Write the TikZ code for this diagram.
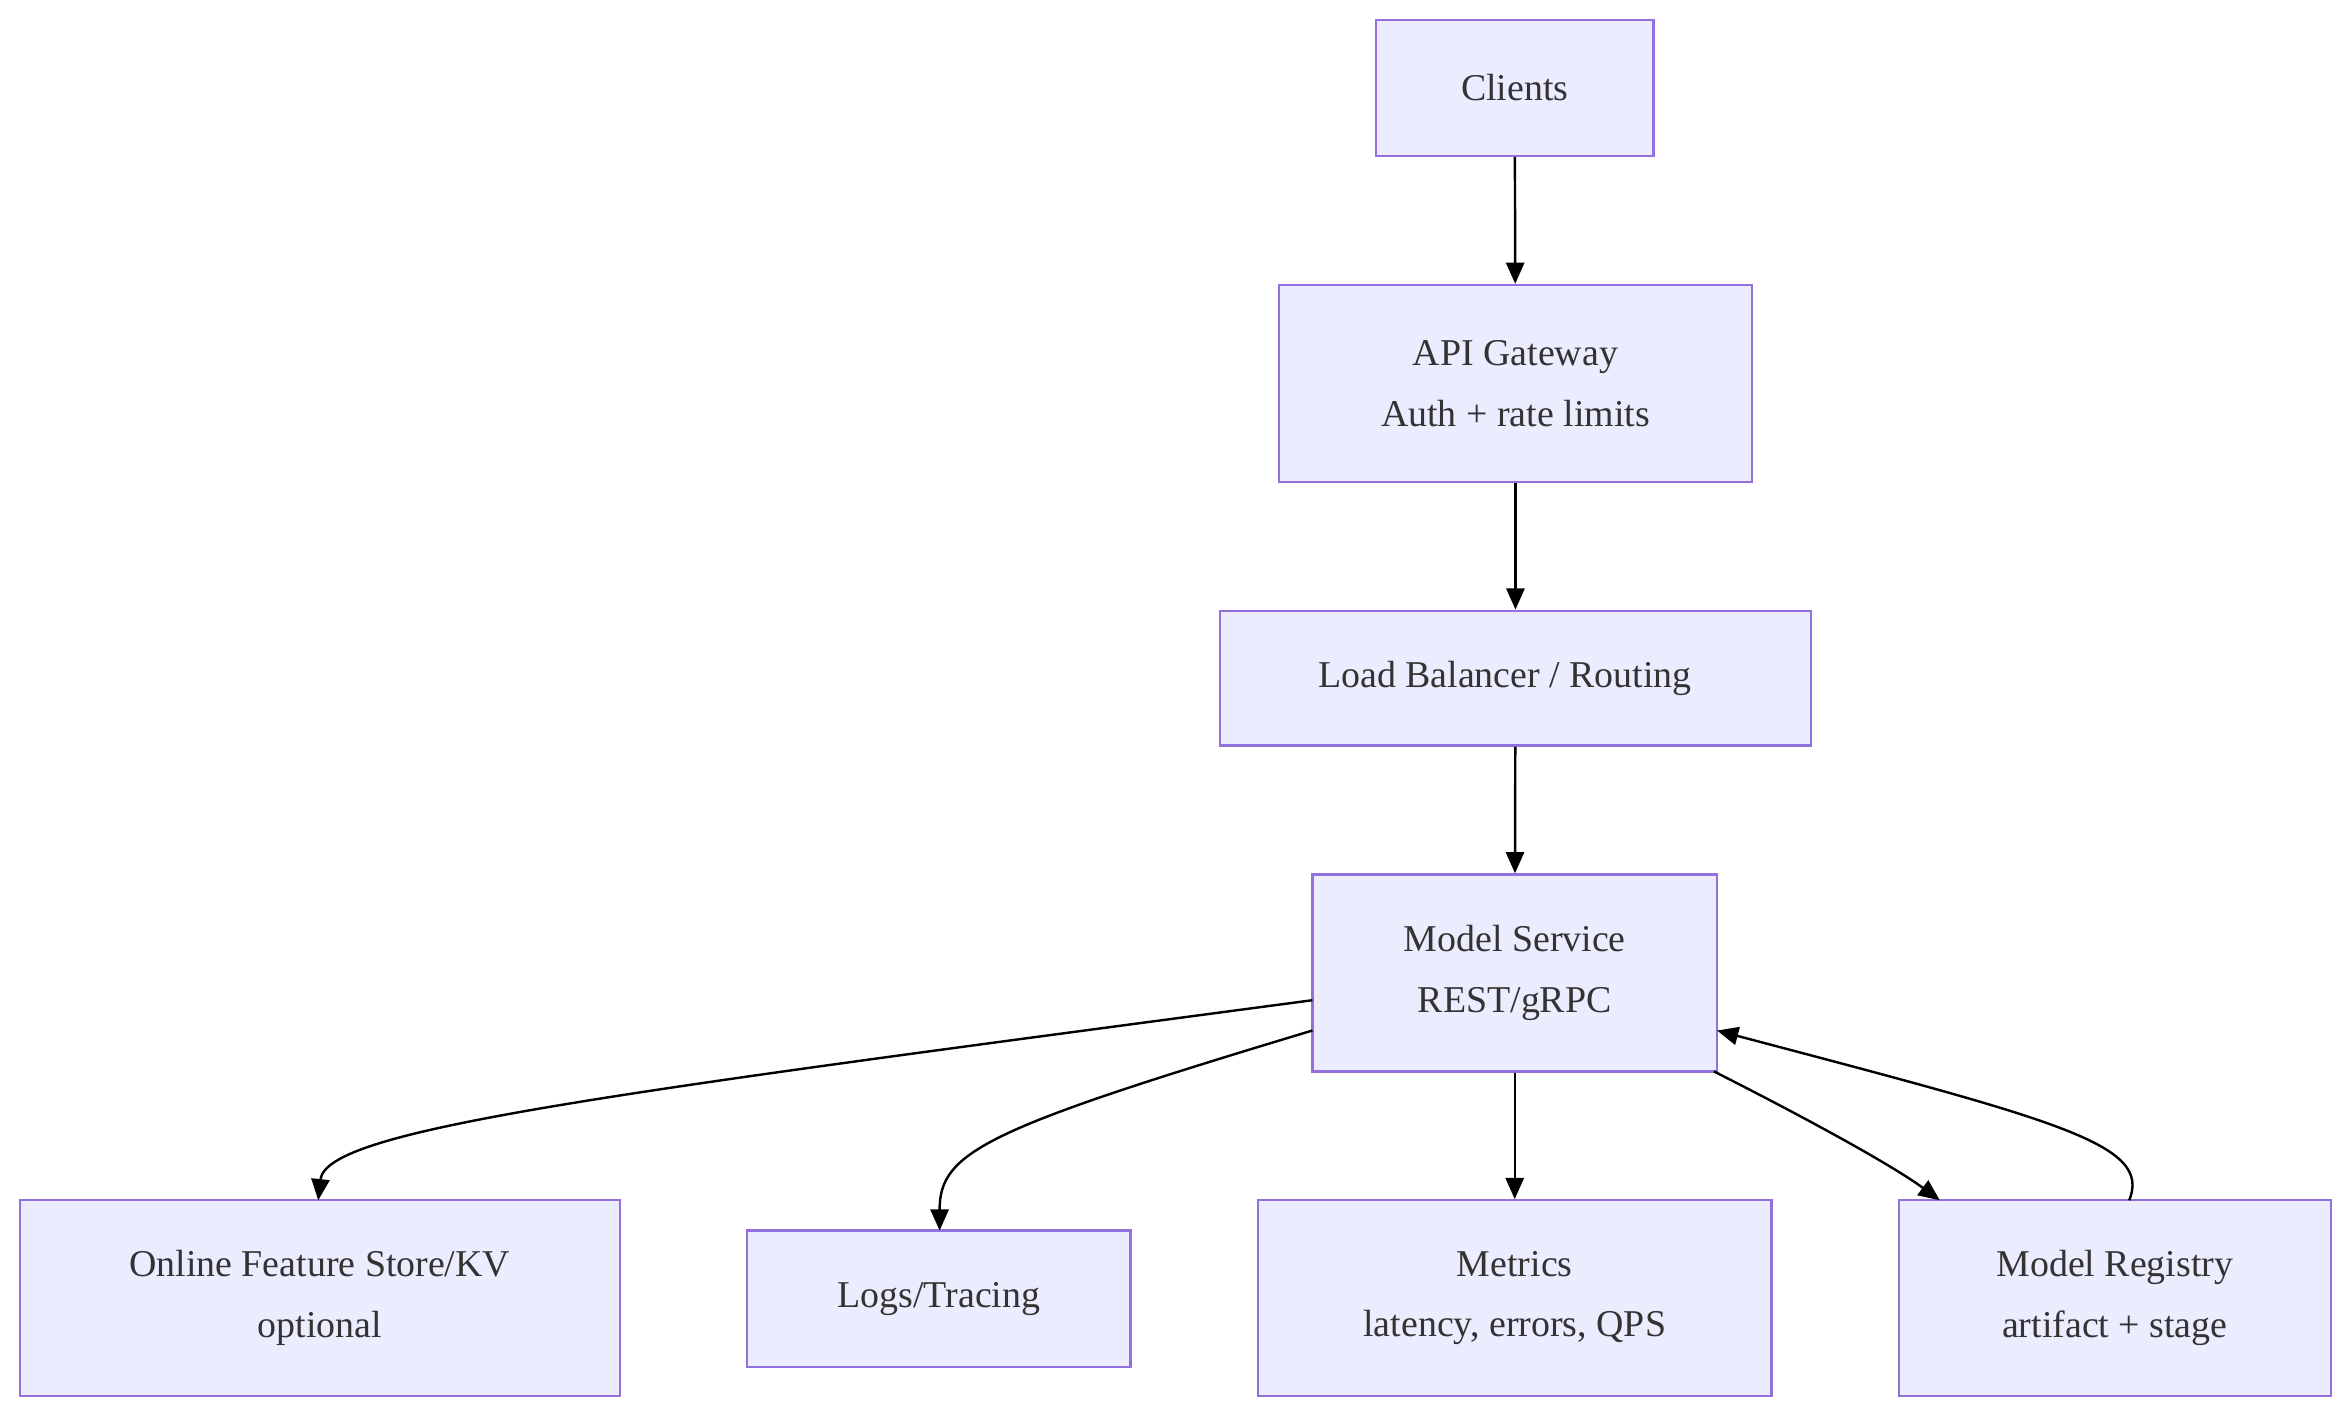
\documentclass[tikz,border=0pt]{standalone}
\usepackage{fontspec}
\setmainfont{Liberation Serif}
\usetikzlibrary{arrows.meta}
\definecolor{nfill}{HTML}{ECECFF}
\definecolor{nline}{HTML}{9370DB}
\definecolor{txt}{HTML}{333333}
\begin{document}
\begin{tikzpicture}[x=1pt,y=-1pt,
 box/.style={draw=nline,fill=nfill,line width=1.5pt,text=txt,font=\fontsize{25}{40}\selectfont,align=center,inner sep=0pt},
 arr/.style={line width=1.6pt,-{Triangle[length=14pt,width=12pt]}}]
\useasboundingbox (0,0) rectangle (1552,936);
\node[box,minimum width=183pt,minimum height=90pt] (cl) at (999.5,58) {Clients};
\node[box,minimum width=312pt,minimum height=130pt] (api) at (1000,253) {API Gateway\\Auth + rate limits};
\node[box,minimum width=390pt,minimum height=89pt] (lb) at (1000,447.5) {Load Balancer / Routing\hspace{14pt}};
\node[box,minimum width=267pt,minimum height=130pt] (ms) at (999.5,642) {Model Service\\REST/gRPC};
\node[box,minimum width=396pt,minimum height=129pt] (fs) at (211,856.5) {Online Feature Store/KV\\optional};
\node[box,minimum width=253pt,minimum height=90pt] (lg) at (619.5,857) {Logs/Tracing};
\node[box,minimum width=339pt,minimum height=129pt] (me) at (999.5,856.5) {Metrics\\latency, errors, QPS};
\node[box,minimum width=285pt,minimum height=129pt] (mr) at (1395.5,856.5) {Model Registry\\artifact + stage};
\draw[arr] (cl) -- (api);
\draw[arr] (api) -- (lb);
\draw[arr] (lb) -- (ms);
\draw[arr] (ms) -- (me);
\draw[arr] (866,660) .. controls (400,722) and (215,745) .. (210,792);
\draw[arr] (866,680) .. controls (650,745) and (620,760) .. (620,812);
\draw[arr] (1131,707) .. controls (1200,742) and (1250,770) .. (1280,792);
\draw[arr] (1405,792) .. controls (1420,755) and (1360,740) .. (1133,680);
\end{tikzpicture}
\end{document}
